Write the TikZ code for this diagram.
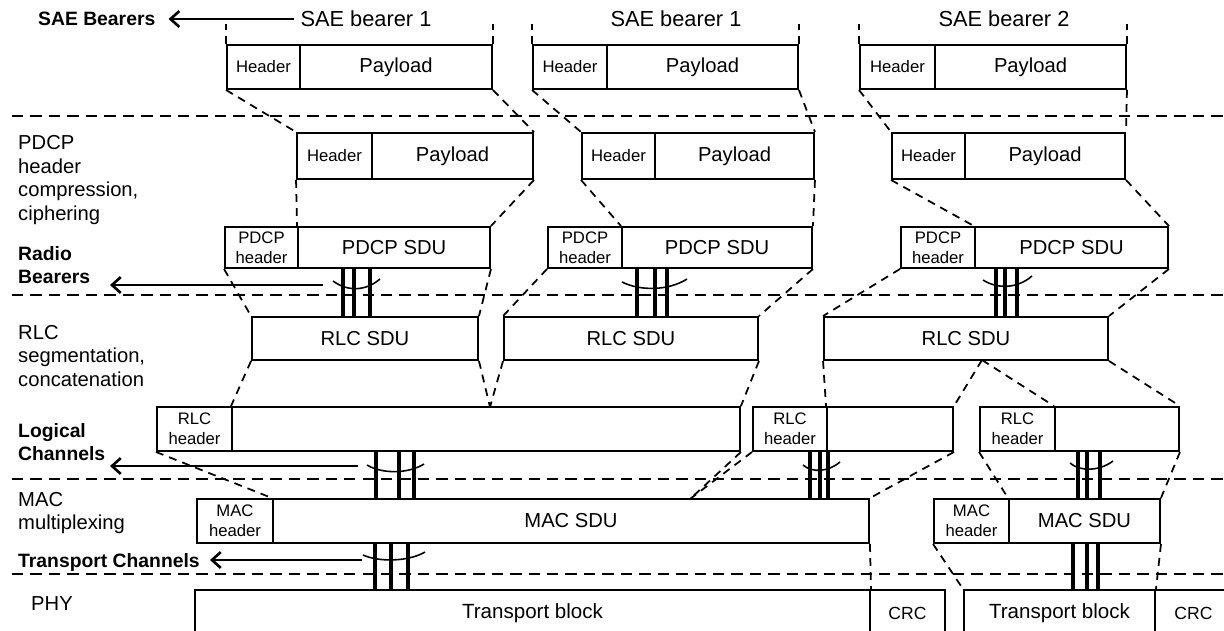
\documentclass[tikz,border=0pt]{standalone}
\usepackage{fontspec}
\setmainfont{Liberation Sans}
\usetikzlibrary{arrows.meta}

% box with corners (x1,y1) and (x2,y2), in pixel units
\newcommand{\cellnode}[6]{\node[#1, minimum width={(#4-#2)*0.02cm}, minimum height={(#5-#3)*0.02cm}] (#6) at ({(#2+#4)/2},{(#3+#5)/2})}

\begin{document}
\begin{tikzpicture}[x=0.02cm, y=-0.02cm,
  blk/.style={draw, line width=1.1pt, inner sep=0pt, font=\fontsize{11.5}{13}\selectfont},
  hdr/.style={blk, align=center, font=\fontsize{9.5}{11.3}\selectfont},
  map/.style={line width=1pt, dash pattern=on 4.5pt off 3.5pt},
  sep/.style={line width=0.9pt, dash pattern=on 6.5pt off 4pt},
  chan/.style={line width=1.9pt},
  chbrace/.style={line width=0.9pt},
  lbl/.style={anchor=west, align=left, font=\fontsize{11.5}{13.5}\selectfont},
  blbl/.style={anchor=west, align=left, font=\fontsize{11}{13}\selectfont\bfseries},
  toname/.style={line width=1.5pt, -{Straight Barb[length=5pt, width=9pt]}}]

\useasboundingbox (0,0) rectangle (1224,630);
\clip (0,0) rectangle (1224,630);

% layer separators
\foreach \y in {116,295,479,574}
  \draw[sep] (12,\y) -- (1224,\y);

% layer names
\node[blbl] (lsae) at (32,19) {SAE Bearers};
\node[lbl] (lpdcp) at (12,180) {PDCP\\header\\compression,\\ciphering};
\node[blbl] (lrb) at (12,265) {Radio\\Bearers};
\node[lbl] (lrlc) at (12,356) {RLC\\segmentation,\\concatenation};
\node[blbl] (llc) at (12,442) {Logical\\Channels};
\node[lbl] (lmac) at (12,513) {MAC\\multiplexing};
\node[blbl] (ltc) at (12,562) {Transport Channels};
\node[lbl] (lphy) at (25,604) {PHY};

% SAE bearers (IP packets)
\node[font=\fontsize{12.4}{14}\selectfont] (lb1) at (366,19) {SAE bearer 1};
\node[font=\fontsize{12.4}{14}\selectfont] (lb2) at (676,19) {SAE bearer 1};
\node[font=\fontsize{12.4}{14}\selectfont] (lb3) at (1004,19) {SAE bearer 2};

\cellnode{hdr}{227}{45}{300}{89}{s1h} {Header};
\cellnode{blk}{300}{45}{492}{89}{s1p} {Payload};
\cellnode{hdr}{533}{45}{607}{89}{s2h} {Header};
\cellnode{blk}{607}{45}{798}{89}{s2p} {Payload};
\cellnode{hdr}{860}{45}{935}{89}{s3h} {Header};
\cellnode{blk}{935}{45}{1126}{89}{s3p} {Payload};

% PDCP input
\cellnode{hdr}{297}{133}{372}{179}{q1h} {Header};
\cellnode{blk}{372}{133}{533}{179}{q1p} {Payload};
\cellnode{hdr}{582}{133}{655}{179}{q2h} {Header};
\cellnode{blk}{655}{133}{814}{179}{q2p} {Payload};
\cellnode{hdr}{892}{133}{965}{179}{q3h} {Header};
\cellnode{blk}{965}{133}{1125}{179}{q3p} {Payload};

% PDCP output
\cellnode{hdr}{225}{227}{298}{268}{p1h} {PDCP\\header};
\cellnode{blk}{298}{227}{490}{268}{p1s} {PDCP SDU};
\cellnode{hdr}{548}{227}{622}{268}{p2h} {PDCP\\header};
\cellnode{blk}{622}{227}{812}{268}{p2s} {PDCP SDU};
\cellnode{hdr}{901}{227}{975}{268}{p3h} {PDCP\\header};
\cellnode{blk}{975}{227}{1168}{268}{p3s} {PDCP SDU};

% RLC
\cellnode{blk}{252}{317}{478}{360}{r1} {RLC SDU};
\cellnode{blk}{504}{317}{758}{360}{r2} {RLC SDU};
\cellnode{blk}{824}{317}{1108}{360}{r3} {RLC SDU};

\cellnode{hdr}{157}{407}{232}{451}{g1h} {RLC\\header};
\cellnode{blk}{232}{407}{740}{451}{g1d} {};
\cellnode{hdr}{753}{407}{827}{451}{g2h} {RLC\\header};
\cellnode{blk}{827}{407}{953}{451}{g2d} {};
\cellnode{hdr}{980}{407}{1055}{451}{g3h} {RLC\\header};
\cellnode{blk}{1055}{407}{1179}{451}{g3d} {};

% MAC
\cellnode{hdr}{197}{499}{273}{543}{m1h} {MAC\\header};
\cellnode{blk}{273}{499}{869}{543}{m1s} {MAC SDU};
\cellnode{hdr}{934}{499}{1009}{543}{m2h} {MAC\\header};
\cellnode{blk}{1009}{499}{1160}{543}{m2s} {MAC SDU};

% PHY
\cellnode{blk, font=\fontsize{11.7}{13}\selectfont}{195}{590}{870}{636}{t1} {Transport block};
\cellnode{blk, font=\fontsize{10}{12}\selectfont}{870}{590}{945}{636}{c1} {CRC};
\cellnode{blk, font=\fontsize{11.7}{13}\selectfont}{964}{590}{1155}{636}{t2} {Transport block};
\cellnode{blk, font=\fontsize{10}{12}\selectfont}{1155}{590}{1232}{636}{c2} {CRC};

% split points
\coordinate (k1) at (490,407);
\coordinate (k2) at (982,360);
\coordinate (k3) at (690,499);

% mapping lines
\foreach \i in {1,2,3} {
  \draw[map] (s\i h.north west) -- ++(0,-20);
  \draw[map] (s\i p.north east) -- ++(0,-20);
  \draw[map] (s\i h.south west) -- (q\i h.north west);
  \draw[map] (s\i p.south east) -- (q\i p.north east);
  \draw[map] (q\i h.south west) -- (p\i s.north west);
  \draw[map] (q\i p.south east) -- (p\i s.north east);
  \draw[map] (p\i h.south west) -- (r\i.north west);
  \draw[map] (p\i s.south east) -- (r\i.north east);
}
\draw[map] (r1.south west) -- (g1d.north west);
\draw[map] (r1.south east) -- (k1);
\draw[map] (r2.south west) -- (k1);
\draw[map] (r2.south east) -- (g1d.north east);
\draw[map] (r3.south west) -- (g2d.north west);
\draw[map] (k2) -- (g2d.north east);
\draw[map] (k2) -- (g3d.north west);
\draw[map] (r3.south east) -- (g3d.north east);

\draw[map] (g1h.south west) -- (m1s.north west);
\draw[map] (g1d.south east) -- (k3);
\draw[map] (g2h.south west) -- (k3);
\draw[map] (g2d.south east) -- (m1s.north east);
\draw[map] (g3h.south west) -- (m2s.north west);
\draw[map] (g3d.south east) -- (m2s.north east);

\draw[map] (m1s.south east) -- (t1.north east);
\draw[map] (m2h.south west) -- (t2.north west);
\draw[map] (m2s.south east) -- (t2.north east);

% channels
\foreach \x in {343,354,370}
  \draw[chan] (\x,0 |- p1s.south) -- (\x,0 |- r1.north);
\foreach \x in {637,655,667}
  \draw[chan] (\x,0 |- p2s.south) -- (\x,0 |- r2.north);
\foreach \x in {996,1005,1017}
  \draw[chan] (\x,0 |- p3s.south) -- (\x,0 |- r3.north);
\foreach \x in {376,399,414}
  \draw[chan] (\x,0 |- g1d.south) -- (\x,0 |- m1s.north);
\foreach \x in {810,820,828}
  \draw[chan] (\x,0 |- g2d.south) -- (\x,0 |- m1s.north);
\foreach \x in {1078,1087,1100}
  \draw[chan] (\x,0 |- g3d.south) -- (\x,0 |- m2s.north);
\foreach \x in {375,391,408}
  \draw[chan] (\x,0 |- m1s.south) -- (\x,0 |- t1.north);
\foreach \x in {1073,1087,1098}
  \draw[chan] (\x,0 |- m2s.south) -- (\x,0 |- t2.north);

\draw[chbrace] (333,281) .. controls (348,292) and (366,291) .. (380,279);
\draw[chbrace] (622,282) .. controls (640,291) and (668,291) .. (687,279);
\draw[chbrace] (983,280) .. controls (997,289) and (1017,289) .. (1032,276);
\draw[chbrace] (367,465) .. controls (382,474) and (408,474) .. (424,464);
\draw[chbrace] (803,465) .. controls (812,473) and (828,472) .. (840,462);
\draw[chbrace] (1070,463) .. controls (1080,472) and (1100,471) .. (1113,461);
\draw[chbrace] (363,555) .. controls (378,562) and (408,562) .. (425,552);

% channel arrows
\coordinate (rbA) at (323,285);
\coordinate (rbB) at (110,285);
\coordinate (lcA) at (358,466);
\coordinate (lcB) at (110,466);
\coordinate (tcA) at (362,560);
\coordinate (tcB) at (210,560);
\draw[toname, shorten >=4pt] (lb1.west) -- (lsae.east);
\draw[toname] (rbA) -- (rbB);
\draw[toname] (lcA) -- (lcB);
\draw[toname] (tcA) -- (tcB);
\end{tikzpicture}
\end{document}
